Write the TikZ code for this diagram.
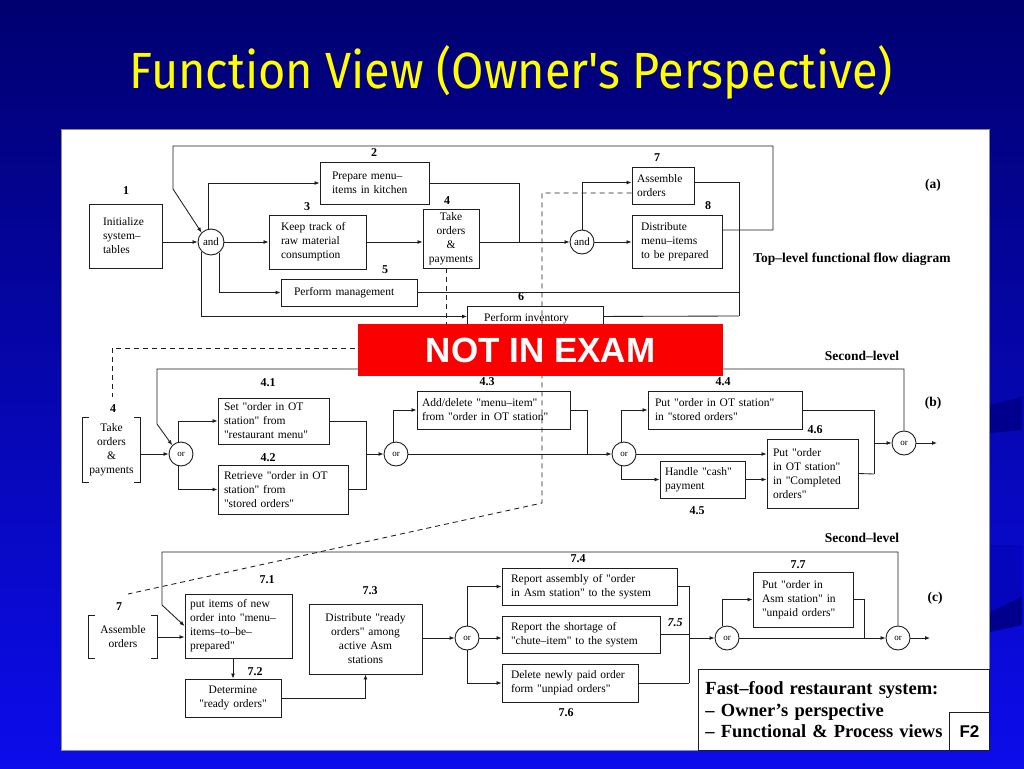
\documentclass[tikz,border=0pt]{standalone}
\usepackage{fontspec}
\usepackage{graphicx}
\setmainfont{Liberation Serif}[Ligatures=TeXOff]
\newfontfamily\titlefont{Fira Sans}
\newfontfamily\sansfam{Liberation Sans}
\usetikzlibrary{arrows.meta,calc}
\definecolor{ink}{RGB}{30,30,30}
\definecolor{navytop}{RGB}{0,0,112}
\definecolor{bluebot}{RGB}{12,12,236}
\definecolor{titleyellow}{RGB}{255,255,0}
\definecolor{examred}{RGB}{250,0,0}
\definecolor{panelgray}{RGB}{140,140,150}
\definecolor{banddark}{RGB}{0,0,140}
\definecolor{bandmid}{RGB}{5,5,190}
\newcommand\dgfont{\fontsize{11.5}{14}\selectfont}
\newcommand\lblfont{\bfseries\fontsize{12}{14}\selectfont}
\newcommand\capfont{\bfseries\fontsize{13.5}{16}\selectfont}
\begin{document}
\begin{tikzpicture}[x=1pt,y=-1pt,
  ln/.style={draw=ink, line width=0.85pt},
  arr/.style={ln, -{Latex[length=5pt,width=4pt]}},
  dsh/.style={ln, dash pattern=on 5pt off 4pt},
  bx/.style={draw=ink, line width=0.9pt, inner ysep=0pt, font=\dgfont, align=left},
  bxc/.style={bx, align=center},
  lbl/.style={font=\lblfont, inner sep=0pt},
  captxt/.style={font=\capfont, inner sep=0pt},
  circ/.style={circle, draw=ink, line width=0.9pt, minimum size=24pt, inner sep=0pt, font=\fontsize{9}{9}\selectfont},
  brk/.style={draw=ink, line width=0.9pt}
]
\useasboundingbox (0,0) rectangle (1024,768);
\shade[top color=navytop, bottom color=bluebot] (0,0) rectangle (1024,768);
\fill[banddark] (990,405) -- (1022,397) -- (1022,430) -- (990,433) -- cycle;
\fill[bandmid] (990,545) -- (1022,545) -- (1022,597) -- (990,612) -- cycle;
\fill[banddark] (990,612) -- (1022,597) -- (1022,625) -- (990,632) -- cycle;
\node[anchor=base, text=titleyellow, inner sep=0pt] (title) at (511.5,88) {\resizebox{763pt}{43pt}{\titlefont Function View (Owner's Perspective)}};
\draw[draw=panelgray, line width=0.8pt, fill=white] (61,129) rectangle (989,750);

% ---------------- (a) -----------------
\node[bx, text width=45pt, inner xsep=14pt, minimum height=64pt] (b1) at (125.5,236) {Initialize\\system–\\tables};
\node[bx, text width=85pt, inner xsep=12pt, minimum height=42pt] (b2) at (374.5,183) {Prepare menu–\\items in kitchen};
\node[bx, text width=73pt, inner xsep=12pt, minimum height=54pt] (b3) at (317.5,242) {Keep track of\\raw material\\consumption};
\node[bxc, text width=48pt, inner xsep=4pt, minimum height=59pt] (b4) at (451,238.5) {Take\\orders\\\&\\payments};
\node[bx, text width=110pt, inner xsep=13pt, minimum height=27pt] (b5) at (349,292.5) {Perform management};
\node[draw=ink, line width=0.9pt, minimum width=136pt, minimum height=40pt, anchor=north west, inner sep=0pt] (b6) at (467,306) {};
\node[font=\dgfont, anchor=west, inner sep=0pt] (b6t) at (484,319) {Perform inventory};
\node[bx, text width=52pt, inner xsep=5pt, minimum height=37pt] (b7) at (663,185.5) {Assemble\\orders};
\node[bx, text width=72pt, inner xsep=9pt, minimum height=53pt] (b8) at (677,242) {Distribute\\menu–items\\to be prepared};
\node[circ, minimum size=26pt, font=\fontsize{11}{11}\selectfont] (and1) at (211,242) {and};
\node[circ, font=\fontsize{11}{11}\selectfont] (and2) at (582,242) {and};

\node[lbl] (n1) at (126,191) {1};
\node[lbl] (n2) at (374,153) {2};
\node[lbl] (n3) at (307,207) {3};
\node[lbl] (n4) at (447,201) {4};
\node[lbl] (n5) at (385,270) {5};
\node[lbl] (n6) at (521,297) {6};
\node[lbl] (n7) at (657,158) {7};
\node[lbl] (n8) at (708,206) {8};
\node[captxt] (capa) at (933,185) {(a)};
\node[captxt] (tl) at (852,259) {Top–level functional flow diagram};

\coordinate (ta1) at (773,146);
\coordinate (ta2) at (173,189);
\draw[arr] ([yshift=12pt]b8.east) -| (ta1) -| (ta2) -- (and1.135);
\draw[arr] (and1 -| b1.east) -- (and1.west);
\draw[arr] (and1.102) |- (b2.west);
\draw[arr] (and1.east) -- (b3.west);
\draw[arr] (and1.-52) |- (b5.west);
\draw[arr] (and1.-134) |- ([yshift=10pt]b6.west);
\draw[arr] (b3.east) -- (b3.east -| b4.west);
\coordinate (ja1) at (519,242);
\draw[ln] (b2.east) -| (ja1);
\draw[arr] (b4.east |- and2) -- (and2.west);
\draw[arr] (and2.north) |- ([yshift=3pt]b7.west);
\draw[arr] (and2.east) -- (b8.west);
\coordinate (ja2) at (739,316);
\draw[ln] ([yshift=3pt]b7.east) -| (ja2);
\draw[ln] (b5.east) -- (b5.east -| ja2);
\draw[ln] ([yshift=10pt]b6.east) -- (ja2);

% dashed links
\coordinate (da1) at (112,348);
\coordinate (da2) at (112,397);
\draw[dsh] ([xshift=-5pt]b4.south) |- (da1) -- (da2);
\coordinate (da3) at (542,503);
\coordinate (da4) at (128,594);
\draw[dsh] ([yshift=-7.5pt]b7.west) -| (da3) -- (da4);

% ---------------- (b) -----------------
\node[bxc, draw=none, text width=51pt, inner xsep=3pt, minimum height=64pt] (br4) at (111.5,450) {Take\\orders\\\&\\payments};
\draw[brk] ([xshift=6pt]br4.north west) -- (br4.north west) -- (br4.south west) -- ([xshift=6pt]br4.south west);
\draw[brk] ([xshift=-6pt]br4.north east) -- (br4.north east) -- (br4.south east) -- ([xshift=-6pt]br4.south east);
\node[bx, text width=99pt, inner xsep=6pt, minimum height=46pt] (b41) at (273.5,421) {Set "order in OT\\station" from\\"restaurant menu"};
\node[bx, text width=118pt, inner xsep=6pt, minimum height=49pt] (b42) at (283,489.5) {Retrieve "order in OT\\station" from\\"stored orders"};
\node[bx, text width=143pt, inner xsep=5pt, minimum height=38pt] (b43) at (493.5,410) {Add/delete "menu–item"\\from "order in OT station"};
\node[bx, text width=140pt, inner xsep=7pt, minimum height=38pt] (b44) at (725,410) {Put "order in OT station"\\in "stored orders"};
\node[bx, text width=75pt, inner xsep=5pt, minimum height=37pt] (b45) at (702.5,479.5) {Handle "cash"\\payment};
\node[bx, text width=79pt, inner xsep=6pt, minimum height=69pt] (b46) at (812.5,473.5) {Put "order\\in OT station"\\in "Completed\\orders"};
\node[circ] (or1) at (181,454) {or};
\node[circ] (or2) at (396,454) {or};
\node[circ] (or3) at (624,454) {or};
\node[circ] (or4) at (904,443) {or};

\node[lbl] (n4b) at (113,409) {4};
\node[lbl] (n41) at (268,383) {4.1};
\node[lbl] (n42) at (268,458) {4.2};
\node[lbl] (n43) at (487,382) {4.3};
\node[lbl] (n44) at (723,382) {4.4};
\node[lbl] (n45) at (697,511) {4.5};
\node[lbl] (n46) at (815,430) {4.6};
\node[captxt] (slb) at (862,356) {Second–level};
\node[captxt] (capb) at (933,403) {(b)};

\draw[arr] (br4.east |- or1) -- (or1.west);
\coordinate (lb1) at (157,369);
\coordinate (lb2) at (157,424);
\draw[arr] (or4.north) |- (lb1) -- (lb2) -- (or1.135);
\draw[arr] (or1.100) |- (b41.west);
\draw[arr] (or1.-100) |- (b42.west);
\coordinate (jb1) at (366,454);
\draw[ln] (b41.east) -| (jb1);
\draw[ln] (b42.east) -| (jb1);
\draw[arr] (jb1) -- (or2.west);
\draw[arr] (or2.100) |- (b43.west);
\coordinate (jb2) at (587,454);
\draw[ln] (b43.east) -| (jb2);
\draw[arr] (or2.east) -- (or3.west);
\draw[arr] (or3.100) |- (b44.west);
\draw[arr] (or3.east) -- (or3 -| b46.west);
\draw[arr] (or3.-100) |- (b45.west);
\draw[arr] (b45.east) -- (b45.east -| b46.west);
\coordinate (jb3) at (874,474);
\draw[ln] (b44.east) -| (jb3);
\draw[ln] (b46.east) -- (jb3);
\draw[arr] (or4 -| jb3) -- (or4.west);
\coordinate (ob) at (937,443);
\draw[arr] (or4.east) -- (ob);

% ---------------- (c) -----------------
\node[bxc, draw=none, text width=62pt, inner xsep=3pt, minimum height=42pt] (br7) at (123,637) {Assemble\\orders};
\draw[brk] ([xshift=6pt]br7.north west) -- (br7.north west) -- (br7.south west) -- ([xshift=6pt]br7.south west);
\draw[brk] ([xshift=-6pt]br7.north east) -- (br7.north east) -- (br7.south east) -- ([xshift=-6pt]br7.south east);
\node[bx, text width=97pt, inner xsep=5pt, minimum height=64pt] (b71) at (238.5,626) {put items of new\\order into "menu–\\items–to–be–\\prepared"};
\node[bxc, text width=88pt, inner xsep=4pt, minimum height=38pt] (b72) at (233,698) {Determine\\"ready orders"};
\node[bxc, text width=105pt, inner xsep=4pt, minimum height=70pt] (b73) at (365.5,639) {Distribute "ready\\orders" among\\active Asm\\stations};
\node[bx, text width=157pt, inner xsep=9pt, minimum height=37pt] (b74) at (589.5,586.5) {Report assembly of "order\\in Asm station" to the system};
\node[bx, text width=140pt, inner xsep=9pt, minimum height=37pt] (b75) at (581,634.5) {Report the shortage of\\"chute–item" to the system};
\node[bx, text width=118pt, inner xsep=9pt, minimum height=38pt] (b76) at (570,683) {Delete newly paid order\\form "unpiad orders"};
\node[bx, text width=82pt, inner xsep=9pt, minimum height=55pt] (b77) at (803,599.5) {Put "order in\\Asm station" in\\"unpaid orders"};
\node[circ] (or5) at (467,638) {or};
\node[circ] (or6) at (727,638) {or};
\node[circ] (or7) at (898,638) {or};

\node[lbl] (n7c) at (119,607) {7};
\node[lbl] (n71) at (267,580) {7.1};
\node[lbl] (n72) at (255,672) {7.2};
\node[lbl] (n73) at (370,591) {7.3};
\node[lbl] (n74) at (578,559) {7.4};
\node[lbl, font=\lblfont\itshape] (n75) at (675,623) {7.5};
\node[lbl] (n76) at (566,713) {7.6};
\node[lbl] (n77) at (798,565) {7.7};
\node[captxt] (slc) at (862,538) {Second–level};
\node[captxt] (capc) at (935,598) {(c)};

\draw[arr] (br7.east) -- (br7.east -| b71.west);
\coordinate (lc1) at (162,552);
\coordinate (lc2) at (162,605);
\draw[arr] (or7.north) |- (lc1) -- (lc2) -- (b71.west);
\draw[arr] (b72.north |- b71.south) -- (b72.north);
\draw[arr] (b72.east) -| (b73.south);
\draw[arr] (b73.east |- or5) -- (or5.west);
\draw[arr] (or5.north) |- (b74.west);
\draw[arr] (or5.east) -- (or5 -| b75.west);
\draw[arr] (or5.south) |- (b76.west);
\coordinate (jc1) at (689,683);
\draw[ln] (b74.east) -| (jc1);
\draw[ln] (b75.east) -- (b75.east -| jc1);
\draw[ln] (b76.east) -- (jc1);
\draw[arr] (or6 -| jc1) -- (or6.west);
\draw[arr] (or6.110) |- (b77.west);
\coordinate (jc2) at (864,638);
\draw[ln] (b77.east) -| (jc2);
\draw[arr] (or6.east) -- (or7.west);
\coordinate (oc) at (930,638);
\draw[arr] (or7.east) -- (oc);

% legend
\node[draw=ink, line width=0.9pt, anchor=north west, minimum width=291pt, minimum height=81pt, text width=277pt, inner xsep=7pt, inner ysep=0pt, align=left, font=\bfseries\fontsize{18.5}{21.5}\selectfont] (leg) at (698,669) {Fast–food restaurant system:\\– Owner’s perspective\\– Functional \& Process views};
\node[draw=ink, line width=0.9pt, fill=white, anchor=north west, minimum width=40pt, minimum height=38pt, inner sep=0pt, font=\sansfam\bfseries\fontsize{17}{17}\selectfont] (f2) at (949,712) {F2};

% overlay
\node[fill=examred, minimum width=365pt, minimum height=52pt, inner sep=0pt, text=white, font=\sansfam\bfseries\fontsize{35}{35}\selectfont] (nie) at (540.5,350) {NOT IN EXAM};
\end{tikzpicture}
\end{document}
